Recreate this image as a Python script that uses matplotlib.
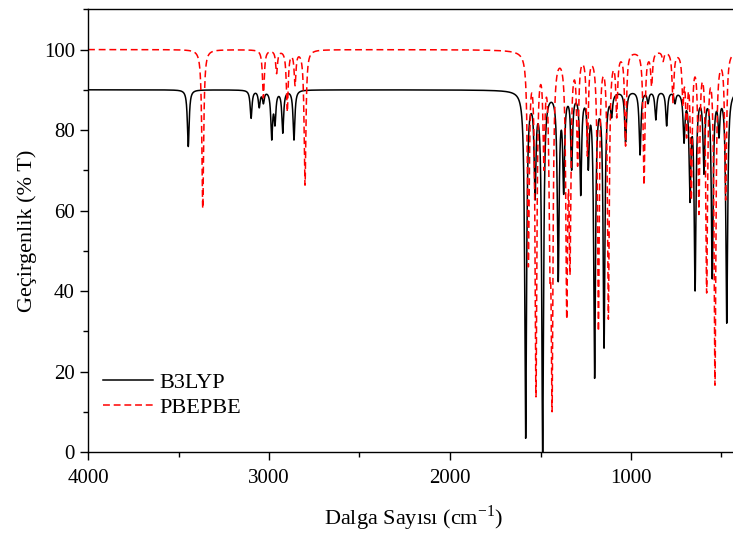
import numpy as np
import matplotlib
matplotlib.use("Agg")
import matplotlib.pyplot as plt
from matplotlib.ticker import MultipleLocator

plt.rcParams['font.family'] = ['Liberation Serif', 'DejaVu Serif']
plt.rcParams['mathtext.fontset'] = 'custom'
plt.rcParams['mathtext.rm'] = 'Liberation Serif'

# peak positions (cm-1) and minimum transmittance
b3lyp_pos = [3446, 3099, 3054, 3031, 2985, 2967, 2924, 2862,
             1582, 1530, 1488, 1402, 1372, 1328, 1278, 1236, 1201, 1149, 1107,
             1030, 950, 906, 863, 803, 757, 707, 674, 646, 597, 551, 514, 471]
b3lyp_min = [75.9, 82.9, 85.5, 86.5, 77.5, 81.0, 79.2, 77.5,
             3.4, 62.6, 0.0, 42.3, 64.0, 70.0, 63.7, 70.0, 18.3, 25.8, 83.0,
             77.0, 73.8, 86.5, 82.5, 81.0, 86.5, 76.7, 62.0, 40.0, 69.0, 43.0, 78.0, 32.0]
b3lyp_base = 90.0

pbe_pos = [3366, 3031, 2958, 2899, 2856, 2801,
           1567, 1525, 1481, 1448, 1436, 1355, 1337, 1295, 1241, 1180, 1125, 1079,
           1030, 928, 886, 823, 768, 713, 693, 667, 625, 582, 536, 477]
pbe_min = [60.5, 88.0, 94.0, 84.5, 91.0, 66.3,
           46.0, 13.7, 70.0, 43.0, 10.0, 33.0, 44.0, 71.0, 73.5, 30.0, 33.0, 83.0,
           76.0, 66.3, 90.8, 97.0, 86.6, 85.8, 78.0, 62.6, 59.0, 39.5, 16.6, 62.6]
pbe_base = 100.0

hw = 6.0  # lorentzian half width, cm-1
wn = np.arange(4000, 399, -0.5)


def spectrum(base, pos, tmin):
    pos = np.array(pos, float)
    depth = base - np.array(tmin, float)
    m = hw**2 / ((pos[:, None] - pos[None, :])**2 + hw**2)
    amp = np.clip(np.linalg.solve(m, depth), 0, None)
    lor = hw**2 / ((wn[:, None] - pos[None, :])**2 + hw**2)
    return base - lor @ amp


t_b3lyp = spectrum(b3lyp_base, b3lyp_pos, b3lyp_min)
t_pbe = spectrum(pbe_base, pbe_pos, pbe_min)

fig = plt.figure(figsize=(7.33, 5.36), dpi=100)
ax = fig.add_axes([88/733, 84/536, 651.6/733, 442.7/536])

ax.plot(wn, t_b3lyp, color='black', lw=1.1, label='B3LYP')
ax.plot(wn, t_pbe, color='red', lw=1.1, ls=(0, (4.5, 2.5)), label='PBEPBE')

ax.set_xlim(4000, 400)
ax.set_ylim(0, 110)
ax.xaxis.set_major_locator(MultipleLocator(1000))
ax.xaxis.set_minor_locator(MultipleLocator(500))
ax.yaxis.set_major_locator(MultipleLocator(20))
ax.yaxis.set_minor_locator(MultipleLocator(10))
ax.tick_params(which='major', direction='out', length=6, width=1, labelsize=15)
ax.tick_params(axis='x', which='major', pad=6)
ax.tick_params(which='minor', direction='out', length=3.5, width=1)
ax.tick_params(top=False, right=False)
for s in ax.spines.values():
    s.set_linewidth(1)

ax.set_xlabel('Dalga Sayısı (cm$^{\\mathregular{-1}}$)', fontsize=16, labelpad=11)
ax.set_ylabel('Geçirgenlik (% T)', fontsize=16, labelpad=5)

ax.legend(loc='upper left', bbox_to_anchor=(0.006, 0.205), frameon=False,
          fontsize=16, handlelength=2.25, handletextpad=0.3, borderpad=0,
          labelspacing=0.2)

fig.savefig('out.png', dpi=100)
